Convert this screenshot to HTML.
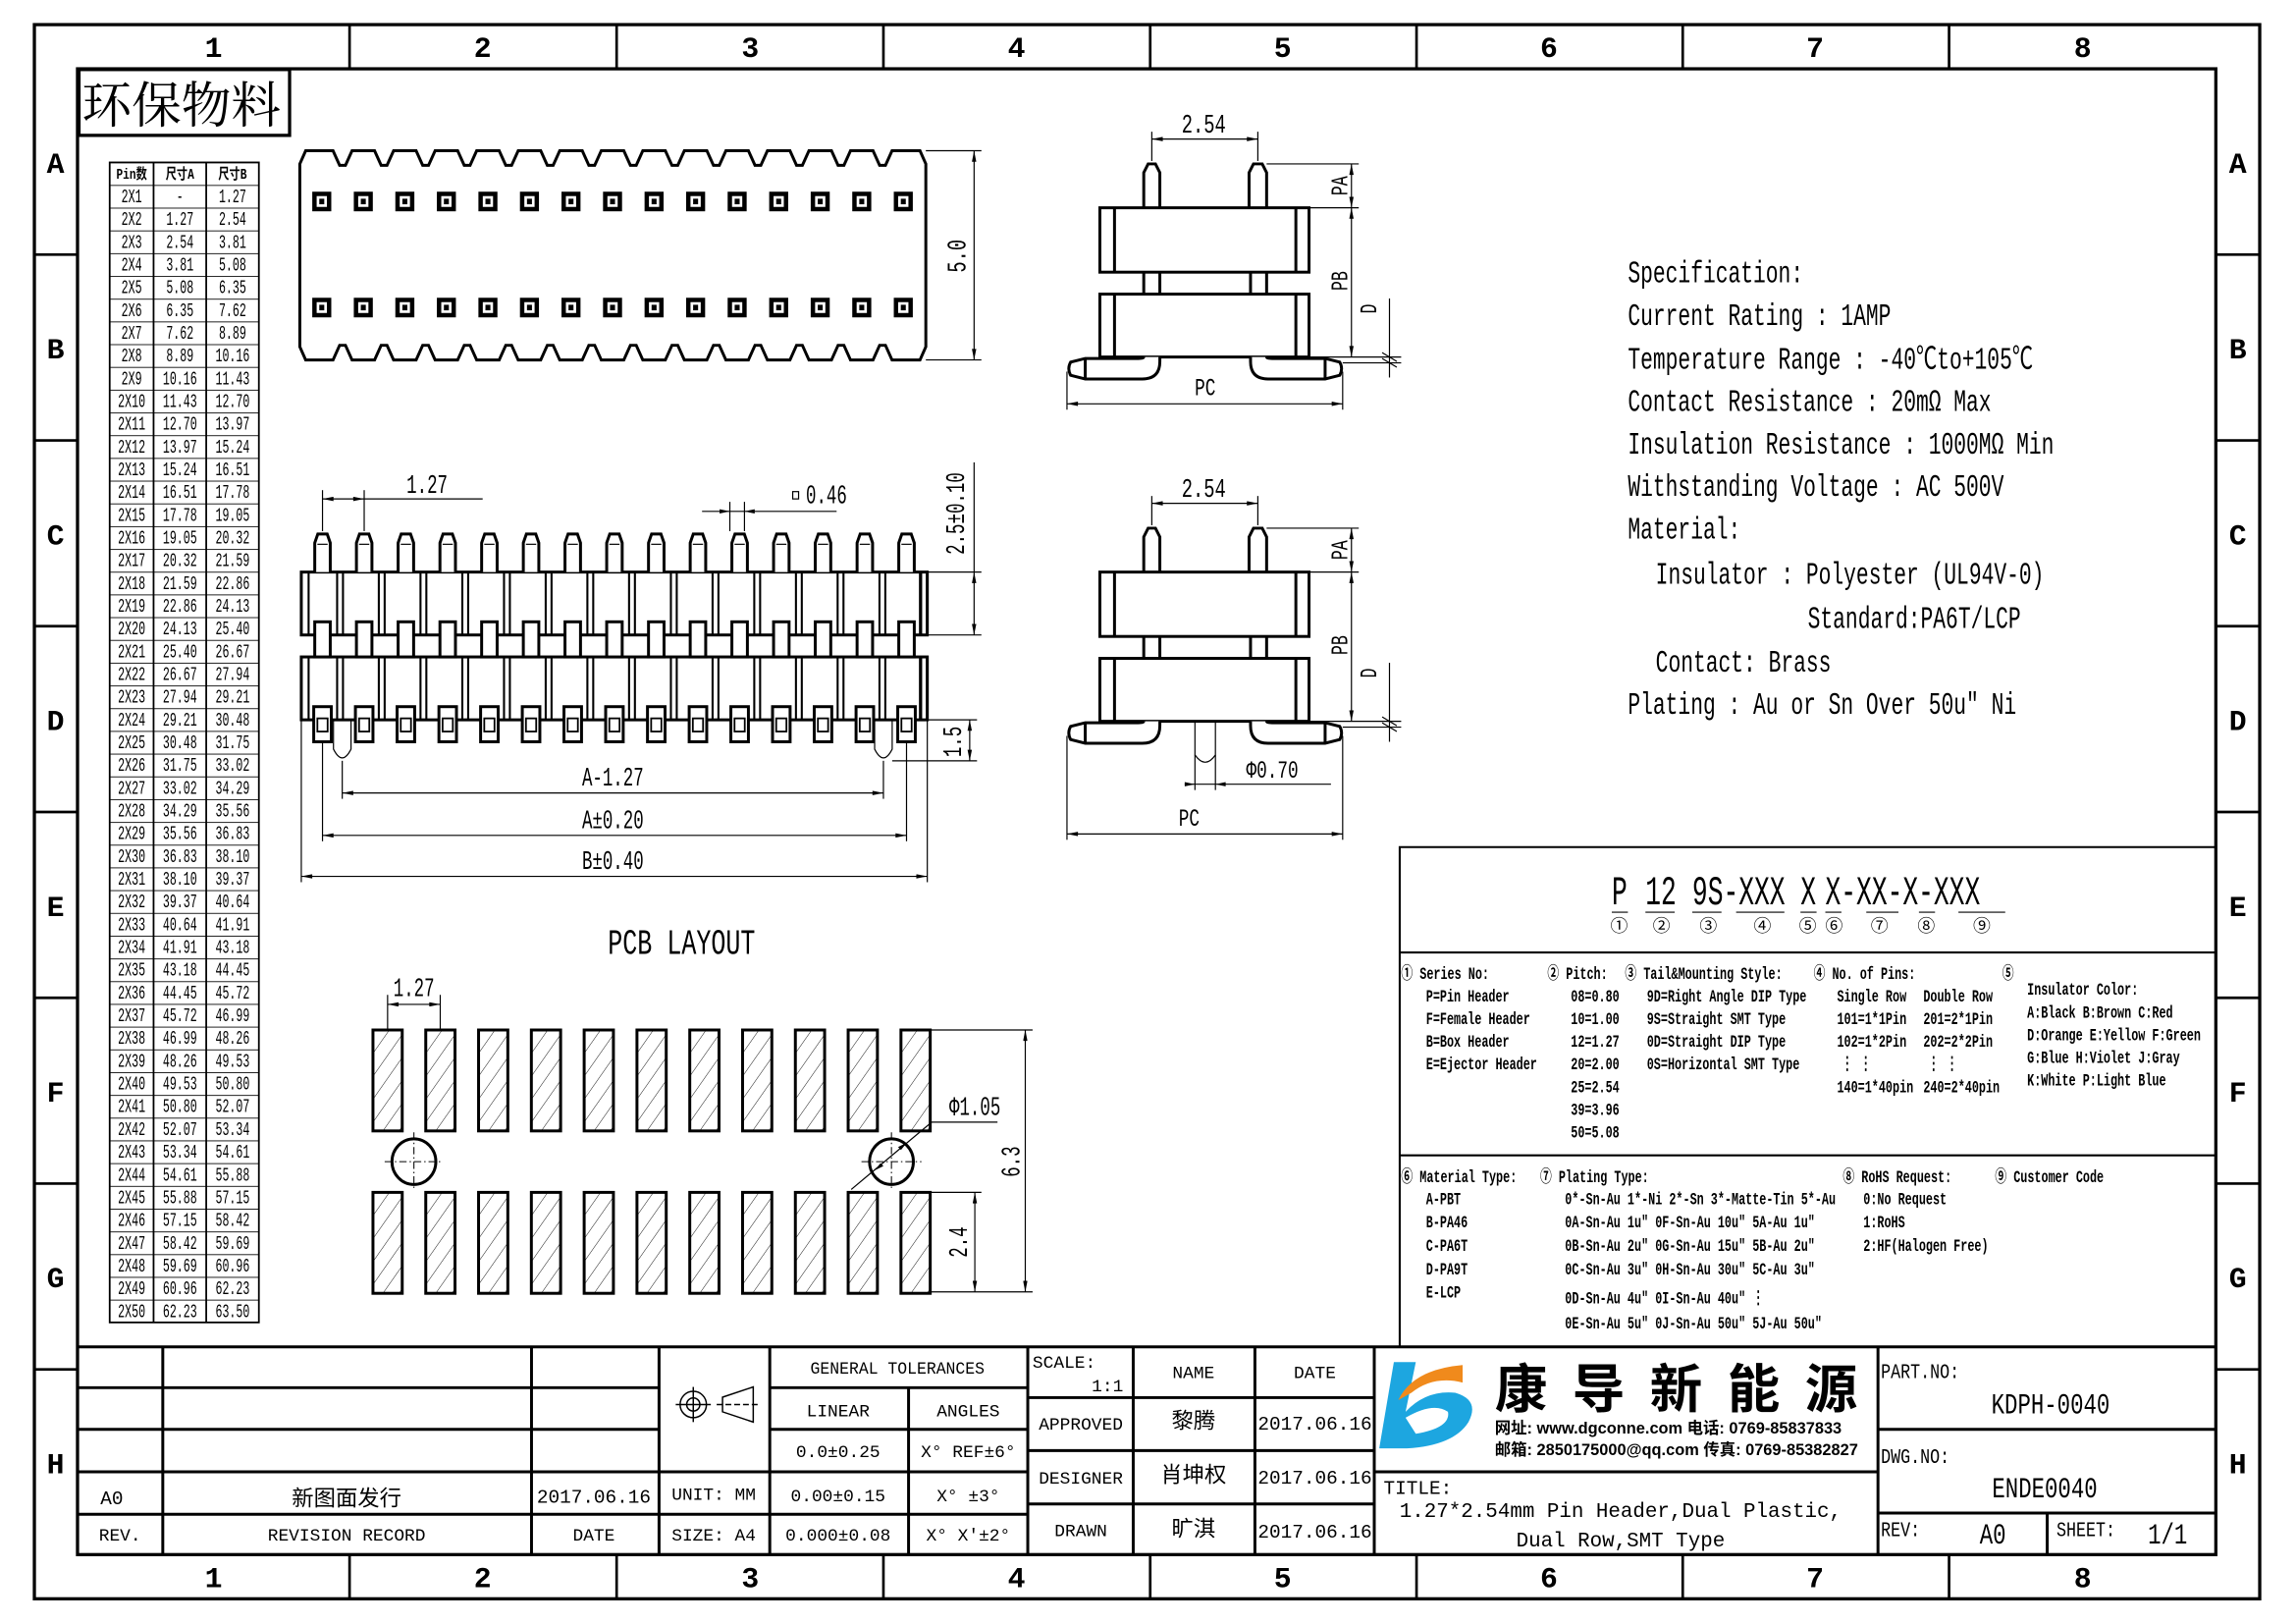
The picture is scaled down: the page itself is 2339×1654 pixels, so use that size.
<!DOCTYPE html>
<html><head><meta charset="utf-8"><style>
html,body{margin:0;padding:0;background:#fff}
svg{display:block}
text{font-family:"Liberation Mono","Noto Sans CJK SC",monospace;fill:#000}
.b{font-family:"Liberation Sans","Noto Sans CJK SC",sans-serif;font-weight:bold}
.o{fill:none;stroke:#000;stroke-width:2}
.w{fill:#fff;stroke:#000;stroke-width:2}
.t{fill:none;stroke:#000;stroke-width:0.8}
.d{fill:none;stroke:#000;stroke-width:0.8;marker-start:url(#ar);marker-end:url(#ar)}
.m{font-size:12px;font-weight:bold}
.tb{font-size:13px;text-anchor:middle}
.c{text-anchor:middle}
</style></head><body>
<svg width="2339" height="1654" viewBox="0 0 1569.8 1110" xmlns="http://www.w3.org/2000/svg">
<defs>
<marker id="ar" viewBox="0 0 10 4" refX="10" refY="2" markerWidth="8" markerHeight="3" markerUnits="userSpaceOnUse" orient="auto-start-reverse"><path d="M0,0 L10,2 L0,4z"/></marker>
<pattern id="rows" patternUnits="userSpaceOnUse" x="0" y="126.4" width="200" height="15.55"><line x1="0" y1="0" x2="200" y2="0" stroke="#000" stroke-width="1.2"/></pattern>
<pattern id="hatch" patternUnits="userSpaceOnUse" width="9" height="9" patternTransform="rotate(35)"><line x1="0" y1="0" x2="0" y2="9" stroke="#000" stroke-width="0.6"/></pattern>
<g id="pad"><rect x="0" y="0" width="13" height="13.4" fill="#000"/><rect x="3" y="3" width="7" height="7.4" fill="#fff"/><rect x="4.8" y="4.8" width="3.4" height="3.8" fill="#000"/></g>
<g id="fp">
<path class="w" d="M-5.3,391 V371 L-3.2,365 H3.2 L5.3,371 V391"/>
<line class="t" x1="-3.5" y1="372" x2="3.5" y2="372"/>
<rect class="w" x="-5.3" y="425" width="10.6" height="24"/>
<rect class="w" x="-6" y="483" width="12" height="24"/>
<rect class="o" style="stroke-width:1.2" x="-3.5" y="491" width="7" height="9"/>
<line class="o" style="stroke-width:1.4" x1="10" y1="391" x2="10" y2="434"/>
<line class="o" style="stroke-width:1.4" x1="14" y1="391" x2="14" y2="434"/>
<line class="o" style="stroke-width:1.4" x1="10" y1="449" x2="10" y2="492"/>
<line class="o" style="stroke-width:1.4" x1="14" y1="449" x2="14" y2="492"/>
</g>
<g id="ppad"><rect x="0" y="0" width="20" height="69" fill="url(#hatch)" stroke="#000" stroke-width="2"/></g>
<g id="sv">
<path class="w" d="M782,142 V118 L785,112 H790 L793,118 V142"/>
<path class="w" d="M854,142 V118 L857,112 H863 L866,118 V142"/>
<rect class="w" x="782" y="184" width="11" height="19"/>
<rect class="w" x="855" y="184" width="11" height="19"/>
<rect class="w" x="752" y="142" width="143" height="44"/>
<rect class="w" x="752" y="201" width="143" height="43"/>
<line class="o" x1="762" y1="142" x2="762" y2="186"/><line class="o" x1="886" y1="142" x2="886" y2="186"/>
<line class="o" x1="762" y1="201" x2="762" y2="244"/><line class="o" x1="886" y1="201" x2="886" y2="244"/>
<path class="w" d="M793,244 V247 Q793,259 781,259 H742 L732,256.5 Q729.5,252 732,247.5 L742,245 H777 Q782,245 782,244"/>
<line class="o" x1="742" y1="245" x2="742" y2="259"/>
<path class="w" d="M855,244 V247 Q855,259 867,259 H906 L916,256.5 Q918.5,252 916,247.5 L906,245 H871 Q866,245 866,244"/>
<line class="o" x1="906" y1="245" x2="906" y2="259"/>
<line class="t" x1="787.5" y1="110" x2="787.5" y2="90"/><line class="t" x1="860" y1="110" x2="860" y2="90"/>
<line class="d" x1="787.5" y1="95" x2="860" y2="95"/>
<text transform="translate(823,90.6) scale(.7,1)" class="c" style="font-size:18px">2.54</text>
<line class="t" x1="866" y1="112" x2="929" y2="112"/><line class="t" x1="895" y1="142" x2="929" y2="142"/><line class="t" x1="895" y1="244" x2="958" y2="244"/><line class="t" x1="918" y1="248" x2="958" y2="248"/>
<line class="d" x1="924" y1="112" x2="924" y2="142"/><line class="d" x1="924" y1="142" x2="924" y2="244"/>
<line class="t" x1="950" y1="204" x2="950" y2="258"/>
<line class="t" x1="945" y1="241" x2="955" y2="247"/><line class="t" x1="945" y1="245" x2="955" y2="251"/>
<text transform="translate(921,127) rotate(-90) scale(.7,1)" class="c" style="font-size:16px">PA</text>
<text transform="translate(921,192) rotate(-90) scale(.7,1)" class="c" style="font-size:16px">PB</text>
<text transform="translate(941,211) rotate(-90) scale(.7,1)" class="c" style="font-size:16px">D</text>
</g>
</defs>

<!-- frame -->
<rect x="23.5" y="16.8" width="1521.5" height="1076" fill="none" stroke="#000" stroke-width="2.2"/>
<rect x="53" y="47" width="1462" height="1015.6" fill="none" stroke="#000" stroke-width="2.2"/>
<g stroke="#000" stroke-width="1.8">
<line x1="239" y1="16.8" x2="239" y2="47"/><line x1="421.6" y1="16.8" x2="421.6" y2="47"/><line x1="604" y1="16.8" x2="604" y2="47"/><line x1="786.4" y1="16.8" x2="786.4" y2="47"/><line x1="968.5" y1="16.8" x2="968.5" y2="47"/><line x1="1150.5" y1="16.8" x2="1150.5" y2="47"/><line x1="1332.6" y1="16.8" x2="1332.6" y2="47"/>
<line x1="239" y1="1062.6" x2="239" y2="1092.8"/><line x1="421.6" y1="1062.6" x2="421.6" y2="1092.8"/><line x1="604" y1="1062.6" x2="604" y2="1092.8"/><line x1="786.4" y1="1062.6" x2="786.4" y2="1092.8"/><line x1="968.5" y1="1062.6" x2="968.5" y2="1092.8"/><line x1="1150.5" y1="1062.6" x2="1150.5" y2="1092.8"/><line x1="1332.6" y1="1062.6" x2="1332.6" y2="1092.8"/>
<line x1="23.5" y1="174" x2="53" y2="174"/><line x1="23.5" y1="301" x2="53" y2="301"/><line x1="23.5" y1="428" x2="53" y2="428"/><line x1="23.5" y1="555" x2="53" y2="555"/><line x1="23.5" y1="682" x2="53" y2="682"/><line x1="23.5" y1="809" x2="53" y2="809"/><line x1="23.5" y1="936" x2="53" y2="936"/>
<line x1="1515" y1="174" x2="1545" y2="174"/><line x1="1515" y1="301" x2="1545" y2="301"/><line x1="1515" y1="428" x2="1545" y2="428"/><line x1="1515" y1="555" x2="1545" y2="555"/><line x1="1515" y1="682" x2="1545" y2="682"/><line x1="1515" y1="809" x2="1545" y2="809"/><line x1="1515" y1="936" x2="1545" y2="936"/>
</g>
<g class="b" style="font-size:20px" text-anchor="middle">
<text x="146" y="39">1</text><text x="330" y="39">2</text><text x="513" y="39">3</text><text x="695" y="39">4</text><text x="877" y="39">5</text><text x="1059" y="39">6</text><text x="1241" y="39">7</text><text x="1424" y="39">8</text>
<text x="146" y="1085">1</text><text x="330" y="1085">2</text><text x="513" y="1085">3</text><text x="695" y="1085">4</text><text x="877" y="1085">5</text><text x="1059" y="1085">6</text><text x="1241" y="1085">7</text><text x="1424" y="1085">8</text>
<text x="38" y="118">A</text><text x="38" y="245">B</text><text x="38" y="372">C</text><text x="38" y="499">D</text><text x="38" y="626">E</text><text x="38" y="753">F</text><text x="38" y="880">G</text><text x="38" y="1007">H</text>
<text x="1530" y="118">A</text><text x="1530" y="245">B</text><text x="1530" y="372">C</text><text x="1530" y="499">D</text><text x="1530" y="626">E</text><text x="1530" y="753">F</text><text x="1530" y="880">G</text><text x="1530" y="1007">H</text>
</g>

<!-- 环保物料 -->
<rect x="54" y="47.5" width="144" height="45" fill="none" stroke="#000" stroke-width="2.2"/>
<text x="56" y="84" style="font-family:'Noto Serif CJK SC','Noto Sans CJK SC',serif;font-size:34px">环保物料</text>

<!-- pin table -->
<rect x="75" y="111" width="102" height="792.9" fill="url(#rows)" stroke="#000" stroke-width="1.2"/>
<line x1="105" y1="111" x2="105" y2="903.9" stroke="#000" stroke-width="1.2"/>
<line x1="141" y1="111" x2="141" y2="903.9" stroke="#000" stroke-width="1.2"/>
<g style="font-size:10px;font-weight:bold" text-anchor="middle">
<text transform="translate(90,122) scale(.75,1)">Pin数</text><text transform="translate(123,122) scale(.75,1)">尺寸A</text><text transform="translate(159,122) scale(.75,1)">尺寸B</text>
</g>
<text class="tb" transform="translate(90,0) scale(.6,1)"><tspan x="0" y="138.2">2X1</tspan><tspan x="0" dy="15.55">2X2</tspan><tspan x="0" dy="15.55">2X3</tspan><tspan x="0" dy="15.55">2X4</tspan><tspan x="0" dy="15.55">2X5</tspan><tspan x="0" dy="15.55">2X6</tspan><tspan x="0" dy="15.55">2X7</tspan><tspan x="0" dy="15.55">2X8</tspan><tspan x="0" dy="15.55">2X9</tspan><tspan x="0" dy="15.55">2X10</tspan><tspan x="0" dy="15.55">2X11</tspan><tspan x="0" dy="15.55">2X12</tspan><tspan x="0" dy="15.55">2X13</tspan><tspan x="0" dy="15.55">2X14</tspan><tspan x="0" dy="15.55">2X15</tspan><tspan x="0" dy="15.55">2X16</tspan><tspan x="0" dy="15.55">2X17</tspan><tspan x="0" dy="15.55">2X18</tspan><tspan x="0" dy="15.55">2X19</tspan><tspan x="0" dy="15.55">2X20</tspan><tspan x="0" dy="15.55">2X21</tspan><tspan x="0" dy="15.55">2X22</tspan><tspan x="0" dy="15.55">2X23</tspan><tspan x="0" dy="15.55">2X24</tspan><tspan x="0" dy="15.55">2X25</tspan><tspan x="0" dy="15.55">2X26</tspan><tspan x="0" dy="15.55">2X27</tspan><tspan x="0" dy="15.55">2X28</tspan><tspan x="0" dy="15.55">2X29</tspan><tspan x="0" dy="15.55">2X30</tspan><tspan x="0" dy="15.55">2X31</tspan><tspan x="0" dy="15.55">2X32</tspan><tspan x="0" dy="15.55">2X33</tspan><tspan x="0" dy="15.55">2X34</tspan><tspan x="0" dy="15.55">2X35</tspan><tspan x="0" dy="15.55">2X36</tspan><tspan x="0" dy="15.55">2X37</tspan><tspan x="0" dy="15.55">2X38</tspan><tspan x="0" dy="15.55">2X39</tspan><tspan x="0" dy="15.55">2X40</tspan><tspan x="0" dy="15.55">2X41</tspan><tspan x="0" dy="15.55">2X42</tspan><tspan x="0" dy="15.55">2X43</tspan><tspan x="0" dy="15.55">2X44</tspan><tspan x="0" dy="15.55">2X45</tspan><tspan x="0" dy="15.55">2X46</tspan><tspan x="0" dy="15.55">2X47</tspan><tspan x="0" dy="15.55">2X48</tspan><tspan x="0" dy="15.55">2X49</tspan><tspan x="0" dy="15.55">2X50</tspan></text>
<text class="tb" transform="translate(123,0) scale(.6,1)"><tspan x="0" y="138.2">-</tspan><tspan x="0" dy="15.55">1.27</tspan><tspan x="0" dy="15.55">2.54</tspan><tspan x="0" dy="15.55">3.81</tspan><tspan x="0" dy="15.55">5.08</tspan><tspan x="0" dy="15.55">6.35</tspan><tspan x="0" dy="15.55">7.62</tspan><tspan x="0" dy="15.55">8.89</tspan><tspan x="0" dy="15.55">10.16</tspan><tspan x="0" dy="15.55">11.43</tspan><tspan x="0" dy="15.55">12.70</tspan><tspan x="0" dy="15.55">13.97</tspan><tspan x="0" dy="15.55">15.24</tspan><tspan x="0" dy="15.55">16.51</tspan><tspan x="0" dy="15.55">17.78</tspan><tspan x="0" dy="15.55">19.05</tspan><tspan x="0" dy="15.55">20.32</tspan><tspan x="0" dy="15.55">21.59</tspan><tspan x="0" dy="15.55">22.86</tspan><tspan x="0" dy="15.55">24.13</tspan><tspan x="0" dy="15.55">25.40</tspan><tspan x="0" dy="15.55">26.67</tspan><tspan x="0" dy="15.55">27.94</tspan><tspan x="0" dy="15.55">29.21</tspan><tspan x="0" dy="15.55">30.48</tspan><tspan x="0" dy="15.55">31.75</tspan><tspan x="0" dy="15.55">33.02</tspan><tspan x="0" dy="15.55">34.29</tspan><tspan x="0" dy="15.55">35.56</tspan><tspan x="0" dy="15.55">36.83</tspan><tspan x="0" dy="15.55">38.10</tspan><tspan x="0" dy="15.55">39.37</tspan><tspan x="0" dy="15.55">40.64</tspan><tspan x="0" dy="15.55">41.91</tspan><tspan x="0" dy="15.55">43.18</tspan><tspan x="0" dy="15.55">44.45</tspan><tspan x="0" dy="15.55">45.72</tspan><tspan x="0" dy="15.55">46.99</tspan><tspan x="0" dy="15.55">48.26</tspan><tspan x="0" dy="15.55">49.53</tspan><tspan x="0" dy="15.55">50.80</tspan><tspan x="0" dy="15.55">52.07</tspan><tspan x="0" dy="15.55">53.34</tspan><tspan x="0" dy="15.55">54.61</tspan><tspan x="0" dy="15.55">55.88</tspan><tspan x="0" dy="15.55">57.15</tspan><tspan x="0" dy="15.55">58.42</tspan><tspan x="0" dy="15.55">59.69</tspan><tspan x="0" dy="15.55">60.96</tspan><tspan x="0" dy="15.55">62.23</tspan></text>
<text class="tb" transform="translate(159,0) scale(.6,1)"><tspan x="0" y="138.2">1.27</tspan><tspan x="0" dy="15.55">2.54</tspan><tspan x="0" dy="15.55">3.81</tspan><tspan x="0" dy="15.55">5.08</tspan><tspan x="0" dy="15.55">6.35</tspan><tspan x="0" dy="15.55">7.62</tspan><tspan x="0" dy="15.55">8.89</tspan><tspan x="0" dy="15.55">10.16</tspan><tspan x="0" dy="15.55">11.43</tspan><tspan x="0" dy="15.55">12.70</tspan><tspan x="0" dy="15.55">13.97</tspan><tspan x="0" dy="15.55">15.24</tspan><tspan x="0" dy="15.55">16.51</tspan><tspan x="0" dy="15.55">17.78</tspan><tspan x="0" dy="15.55">19.05</tspan><tspan x="0" dy="15.55">20.32</tspan><tspan x="0" dy="15.55">21.59</tspan><tspan x="0" dy="15.55">22.86</tspan><tspan x="0" dy="15.55">24.13</tspan><tspan x="0" dy="15.55">25.40</tspan><tspan x="0" dy="15.55">26.67</tspan><tspan x="0" dy="15.55">27.94</tspan><tspan x="0" dy="15.55">29.21</tspan><tspan x="0" dy="15.55">30.48</tspan><tspan x="0" dy="15.55">31.75</tspan><tspan x="0" dy="15.55">33.02</tspan><tspan x="0" dy="15.55">34.29</tspan><tspan x="0" dy="15.55">35.56</tspan><tspan x="0" dy="15.55">36.83</tspan><tspan x="0" dy="15.55">38.10</tspan><tspan x="0" dy="15.55">39.37</tspan><tspan x="0" dy="15.55">40.64</tspan><tspan x="0" dy="15.55">41.91</tspan><tspan x="0" dy="15.55">43.18</tspan><tspan x="0" dy="15.55">44.45</tspan><tspan x="0" dy="15.55">45.72</tspan><tspan x="0" dy="15.55">46.99</tspan><tspan x="0" dy="15.55">48.26</tspan><tspan x="0" dy="15.55">49.53</tspan><tspan x="0" dy="15.55">50.80</tspan><tspan x="0" dy="15.55">52.07</tspan><tspan x="0" dy="15.55">53.34</tspan><tspan x="0" dy="15.55">54.61</tspan><tspan x="0" dy="15.55">55.88</tspan><tspan x="0" dy="15.55">57.15</tspan><tspan x="0" dy="15.55">58.42</tspan><tspan x="0" dy="15.55">59.69</tspan><tspan x="0" dy="15.55">60.96</tspan><tspan x="0" dy="15.55">62.23</tspan><tspan x="0" dy="15.55">63.50</tspan></text>

<!-- top view -->
<path class="o" d="M205,112 L209,103 H227.7 L232.2,113 H236.2 L240.7,103 H256.1 L260.6,113 H264.6 L269.1,103 H284.5 L289,113 H293 L297.5,103 H312.9 L317.4,113 H321.4 L325.9,103 H341.3 L345.8,113 H349.8 L354.3,103 H369.7 L374.2,113 H378.2 L382.7,103 H398.1 L402.6,113 H406.6 L411.1,103 H426.5 L431,113 H435 L439.5,103 H454.9 L459.4,113 H463.4 L467.9,103 H483.3 L487.8,113 H491.8 L496.3,103 H511.7 L516.2,113 H520.2 L524.7,103 H540.1 L544.6,113 H548.6 L553.1,103 H568.5 L573,113 H577 L581.5,103 H596.9 L601.4,113 H605.4 L609.9,103 H629 L633,112 V237 L629,246 H609.9 L605.4,236 H601.4 L596.9,246 H581.5 L577,236 H573 L568.5,246 H553.1 L548.6,236 H544.6 L540.1,246 H524.7 L520.2,236 H516.2 L511.7,246 H496.3 L491.8,236 H487.8 L483.3,246 H467.9 L463.4,236 H459.4 L454.9,246 H439.5 L435,236 H431 L426.5,246 H411.1 L406.6,236 H402.6 L398.1,246 H382.7 L378.2,236 H374.2 L369.7,246 H354.3 L349.8,236 H345.8 L341.3,246 H325.9 L321.4,236 H317.4 L312.9,246 H297.5 L293,236 H289 L284.5,246 H269.1 L264.6,236 H260.6 L256.1,246 H240.7 L236.2,236 H232.2 L227.7,246 H209 L205,237 Z"/>
<g>
<use href="#pad" x="213.5" y="131"/><use href="#pad" x="241.9" y="131"/><use href="#pad" x="270.3" y="131"/><use href="#pad" x="298.7" y="131"/><use href="#pad" x="327.1" y="131"/><use href="#pad" x="355.5" y="131"/><use href="#pad" x="383.9" y="131"/><use href="#pad" x="412.3" y="131"/><use href="#pad" x="440.7" y="131"/><use href="#pad" x="469.1" y="131"/><use href="#pad" x="497.5" y="131"/><use href="#pad" x="525.9" y="131"/><use href="#pad" x="554.3" y="131"/><use href="#pad" x="582.7" y="131"/><use href="#pad" x="611.1" y="131"/>
<use href="#pad" x="213.5" y="203.5"/><use href="#pad" x="241.9" y="203.5"/><use href="#pad" x="270.3" y="203.5"/><use href="#pad" x="298.7" y="203.5"/><use href="#pad" x="327.1" y="203.5"/><use href="#pad" x="355.5" y="203.5"/><use href="#pad" x="383.9" y="203.5"/><use href="#pad" x="412.3" y="203.5"/><use href="#pad" x="440.7" y="203.5"/><use href="#pad" x="469.1" y="203.5"/><use href="#pad" x="497.5" y="203.5"/><use href="#pad" x="525.9" y="203.5"/><use href="#pad" x="554.3" y="203.5"/><use href="#pad" x="582.7" y="203.5"/><use href="#pad" x="611.1" y="203.5"/>
</g>
<line class="t" x1="633" y1="103" x2="671" y2="103"/><line class="t" x1="633" y1="246" x2="671" y2="246"/>
<line class="d" x1="666" y1="103" x2="666" y2="246"/>
<text transform="translate(660,175) rotate(-90) scale(.7,1)" class="c" style="font-size:18px">5.0</text>

<!-- front view -->
<rect class="w" x="206" y="391" width="428" height="43"/>
<rect class="w" x="206" y="449" width="428" height="43"/>
<line class="o" style="stroke-width:1.4" x1="211" y1="391" x2="211" y2="434"/><line class="o" style="stroke-width:1.4" x1="211" y1="449" x2="211" y2="492"/>
<line class="o" style="stroke-width:1.4" x1="629" y1="391" x2="629" y2="434"/><line class="o" style="stroke-width:1.4" x1="629" y1="449" x2="629" y2="492"/>
<path class="t" d="M228,492 V512 Q234,524 240,512 V492"/>
<path class="t" d="M598,492 V512 Q604,524 610,512 V492"/>
<g>
<use href="#fp" x="220.5"/><use href="#fp" x="249"/><use href="#fp" x="277.5"/><use href="#fp" x="306.1"/><use href="#fp" x="334.6"/><use href="#fp" x="363.1"/><use href="#fp" x="391.6"/><use href="#fp" x="420.1"/><use href="#fp" x="448.7"/><use href="#fp" x="477.2"/><use href="#fp" x="505.7"/><use href="#fp" x="534.2"/><use href="#fp" x="562.7"/><use href="#fp" x="591.3"/><use href="#fp" x="619.8"/>
</g>
<line class="t" x1="220.5" y1="363" x2="220.5" y2="335"/><line class="t" x1="249" y1="363" x2="249" y2="335"/>
<line class="d" x1="220.5" y1="341" x2="249" y2="341"/><line class="t" x1="249" y1="341" x2="330" y2="341"/>
<text transform="translate(292,337) scale(.65,1)" class="c" style="font-size:18px">1.27</text>
<line class="t" x1="499" y1="363" x2="499" y2="343"/><line class="t" x1="509" y1="363" x2="509" y2="343"/>
<line class="t" x1="480" y1="349.5" x2="572" y2="349.5"/>
<path d="M499,349.5 l-7,-1.5 v3z M509,349.5 l7,-1.5 v3z"/>
<rect x="542" y="336" width="4" height="5" fill="none" stroke="#000" stroke-width="0.8"/>
<text transform="translate(551,344) scale(.65,1)" style="font-size:18px">0.46</text>
<line class="t" x1="634" y1="391" x2="671" y2="391"/><line class="t" x1="634" y1="434" x2="671" y2="434"/>
<line class="t" x1="666" y1="316" x2="666" y2="391"/>
<line class="d" x1="666" y1="391" x2="666" y2="434"/>
<text transform="translate(659,351) rotate(-90) scale(.65,1)" class="c" style="font-size:18px">2.5±0.10</text>
<line class="t" x1="634" y1="492" x2="668" y2="492"/><line class="t" x1="610" y1="520" x2="668" y2="520"/>
<line class="d" x1="663" y1="492" x2="663" y2="520"/>
<text transform="translate(657,507) rotate(-90) scale(.65,1)" class="c" style="font-size:18px">1.5</text>
<line class="t" x1="234" y1="520" x2="234" y2="546"/><line class="t" x1="604" y1="520" x2="604" y2="546"/>
<line class="d" x1="234" y1="542" x2="604" y2="542"/>
<text transform="translate(419,537) scale(.65,1)" class="c" style="font-size:18px">A-1.27</text>
<line class="t" x1="220.5" y1="507" x2="220.5" y2="575"/><line class="t" x1="619.8" y1="507" x2="619.8" y2="575"/>
<line class="d" x1="220.5" y1="571" x2="619.8" y2="571"/>
<text transform="translate(419,566) scale(.65,1)" class="c" style="font-size:18px">A±0.20</text>
<line class="t" x1="206" y1="492" x2="206" y2="603"/><line class="t" x1="634" y1="492" x2="634" y2="603"/>
<line class="d" x1="206" y1="599" x2="634" y2="599"/>
<text transform="translate(419,594) scale(.65,1)" class="c" style="font-size:18px">B±0.40</text>

<!-- side views -->
<use href="#sv"/>
<line class="t" x1="729.5" y1="254" x2="729.5" y2="280"/><line class="t" x1="918" y1="254" x2="918" y2="280"/>
<line class="d" x1="729.5" y1="276" x2="918" y2="276"/>
<text transform="translate(824,270) scale(.7,1)" class="c" style="font-size:17px">PC</text>
<use href="#sv" y="249"/>
<path class="t" d="M817,493 V516 Q824,526 831,516 V493"/>
<line class="t" x1="817" y1="516" x2="817" y2="540"/><line class="t" x1="831" y1="516" x2="831" y2="540"/>
<line class="t" x1="810" y1="536" x2="910" y2="536"/>
<path d="M817,536 l-7,-1.5 v3z M831,536 l7,-1.5 v3z"/>
<text transform="translate(852,531.5) scale(.7,1)" style="font-size:17px">Φ0.70</text>
<line class="t" x1="729.5" y1="503" x2="729.5" y2="574"/><line class="t" x1="918" y1="503" x2="918" y2="574"/>
<line class="d" x1="729.5" y1="570" x2="918" y2="570"/>
<text transform="translate(813,564.5) scale(.7,1)" class="c" style="font-size:17px">PC</text>

<!-- spec -->
<g style="font-size:21px">
<text transform="translate(1113,193) scale(.68,1)">Specification:</text>
<text transform="translate(1113,222) scale(.68,1)">Current Rating : 1AMP</text>
<text transform="translate(1113,252) scale(.68,1)">Temperature Range : -40℃to+105℃</text>
<text transform="translate(1113,281) scale(.68,1)">Contact Resistance : 20mΩ Max</text>
<text transform="translate(1113,310) scale(.68,1)">Insulation Resistance : 1000MΩ Min</text>
<text transform="translate(1113,339) scale(.68,1)">Withstanding Voltage : AC 500V</text>
<text transform="translate(1113,368) scale(.68,1)">Material:</text>
<text transform="translate(1132,399) scale(.68,1)">Insulator : Polyester (UL94V-0)</text>
<text transform="translate(1236,429) scale(.68,1)">Standard:PA6T/LCP</text>
<text transform="translate(1132,459) scale(.68,1)">Contact: Brass</text>
<text transform="translate(1113,488) scale(.68,1)">Plating : Au or Sn Over 50u″ Ni</text>
</g>

<!-- part number box -->
<path d="M957,920 V579 H1515" fill="none" stroke="#000" stroke-width="1.4"/>
<line x1="957" y1="651" x2="1515" y2="651" stroke="#000" stroke-width="1.4"/>
<line x1="957" y1="789.7" x2="1515" y2="789.7" stroke="#000" stroke-width="1.4"/>
<g style="font-size:28px">
<text transform="translate(1102,618) scale(.63,1)">P</text>
<text transform="translate(1125,618) scale(.63,1)">12</text>
<text transform="translate(1157,618) scale(.63,1)">9S-XXX</text>
<text transform="translate(1231,618) scale(.63,1)">X</text>
<text transform="translate(1248,618) scale(.63,1)">X-XX-X-XXX</text>
</g>
<g stroke="#000" stroke-width="0.8">
<line x1="1102" y1="623.5" x2="1113" y2="623.5"/><line x1="1125" y1="623.5" x2="1145" y2="623.5"/><line x1="1157" y1="623.5" x2="1177" y2="623.5"/><line x1="1187" y1="623.5" x2="1220" y2="623.5"/><line x1="1231" y1="623.5" x2="1242" y2="623.5"/><line x1="1248" y1="623.5" x2="1259" y2="623.5"/><line x1="1276" y1="623.5" x2="1298" y2="623.5"/><line x1="1312" y1="623.5" x2="1323" y2="623.5"/><line x1="1339" y1="623.5" x2="1371" y2="623.5"/>
</g>
<g style="font-size:12px;font-family:'DejaVu Sans',sans-serif" text-anchor="middle">
<text x="1107" y="637">①</text><text x="1136" y="637">②</text><text x="1168" y="637">③</text><text x="1205" y="637">④</text><text x="1236" y="637">⑤</text><text x="1254" y="637">⑥</text><text x="1285" y="637">⑦</text><text x="1317" y="637">⑧</text><text x="1355" y="637">⑨</text>
</g>
<g class="m">
<text transform="translate(958,669) scale(.66,1)">① Series No:</text>
<text transform="translate(975,684.5) scale(.66,1)">P=Pin Header</text>
<text transform="translate(975,700) scale(.66,1)">F=Female Header</text>
<text transform="translate(975,715.5) scale(.66,1)">B=Box Header</text>
<text transform="translate(975,731) scale(.66,1)">E=Ejector Header</text>
<text transform="translate(1058,669) scale(.66,1)">② Pitch:</text>
<text transform="translate(1074,684.5) scale(.66,1)">08=0.80</text>
<text transform="translate(1074,700) scale(.66,1)">10=1.00</text>
<text transform="translate(1074,715.5) scale(.66,1)">12=1.27</text>
<text transform="translate(1074,731) scale(.66,1)">20=2.00</text>
<text transform="translate(1074,746.5) scale(.66,1)">25=2.54</text>
<text transform="translate(1074,762) scale(.66,1)">39=3.96</text>
<text transform="translate(1074,777.5) scale(.66,1)">50=5.08</text>
<text transform="translate(1111,669) scale(.66,1)">③ Tail&amp;Mounting Style:</text>
<text transform="translate(1126,684.5) scale(.66,1)">9D=Right Angle DIP Type</text>
<text transform="translate(1126,700) scale(.66,1)">9S=Straight SMT Type</text>
<text transform="translate(1126,715.5) scale(.66,1)">0D=Straight DIP Type</text>
<text transform="translate(1126,731) scale(.66,1)">0S=Horizontal SMT Type</text>
<text transform="translate(1240,669) scale(.66,1)">④ No. of Pins:</text>
<text transform="translate(1256,684.5) scale(.66,1)">Single Row</text>
<text transform="translate(1315,684.5) scale(.66,1)">Double Row</text>
<text transform="translate(1256,700) scale(.66,1)">101=1*1Pin</text>
<text transform="translate(1315,700) scale(.66,1)">201=2*1Pin</text>
<text transform="translate(1256,715.5) scale(.66,1)">102=1*2Pin</text>
<text transform="translate(1315,715.5) scale(.66,1)">202=2*2Pin</text>
<text transform="translate(1259,731) scale(.66,1)">⋮  ⋮</text>
<text transform="translate(1318,731) scale(.66,1)">⋮  ⋮</text>
<text transform="translate(1256,746.5) scale(.66,1)">140=1*40pin</text>
<text transform="translate(1315,746.5) scale(.66,1)">240=2*40pin</text>
<text transform="translate(1369,669) scale(.66,1)">⑤</text>
<text transform="translate(1386,680) scale(.66,1)">Insulator Color:</text>
<text transform="translate(1386,695.5) scale(.66,1)">A:Black  B:Brown  C:Red</text>
<text transform="translate(1386,711) scale(.66,1)">D:Orange E:Yellow F:Green</text>
<text transform="translate(1386,726.5) scale(.66,1)">G:Blue   H:Violet J:Gray</text>
<text transform="translate(1386,742) scale(.66,1)">K:White  P:Light Blue</text>
<text transform="translate(958,808) scale(.66,1)">⑥ Material Type:</text>
<text transform="translate(975,823) scale(.66,1)">A-PBT</text>
<text transform="translate(975,839) scale(.66,1)">B-PA46</text>
<text transform="translate(975,855) scale(.66,1)">C-PA6T</text>
<text transform="translate(975,871) scale(.66,1)">D-PA9T</text>
<text transform="translate(975,887) scale(.66,1)">E-LCP</text>
<text transform="translate(1053,808) scale(.66,1)">⑦ Plating Type:</text>
<text transform="translate(1070,823) scale(.66,1)">0*-Sn-Au 1*-Ni 2*-Sn 3*-Matte-Tin 5*-Au</text>
<text transform="translate(1070,839) scale(.66,1)">0A-Sn-Au 1u″ 0F-Sn-Au 10u″  5A-Au 1u″</text>
<text transform="translate(1070,855) scale(.66,1)">0B-Sn-Au 2u″ 0G-Sn-Au 15u″  5B-Au 2u″</text>
<text transform="translate(1070,871) scale(.66,1)">0C-Sn-Au 3u″ 0H-Sn-Au 30u″  5C-Au 3u″</text>
<text transform="translate(1070,891) scale(.66,1)">0D-Sn-Au 4u″ 0I-Sn-Au 40u″     ⋮</text>
<text transform="translate(1070,908) scale(.66,1)">0E-Sn-Au 5u″ 0J-Sn-Au 50u″  5J-Au 50u″</text>
<text transform="translate(1260,808) scale(.66,1)">⑧ RoHS Request:</text>
<text transform="translate(1274,823) scale(.66,1)">0:No Request</text>
<text transform="translate(1274,839) scale(.66,1)">1:RoHS</text>
<text transform="translate(1274,855) scale(.66,1)">2:HF(Halogen Free)</text>
<text transform="translate(1364,808) scale(.66,1)">⑨ Customer Code</text>
</g>

<!-- PCB layout -->
<text transform="translate(466,652) scale(.7,1)" class="c" style="font-size:24px">PCB LAYOUT</text>
<g>
<use href="#ppad" x="255" y="704"/><use href="#ppad" x="291.1" y="704"/><use href="#ppad" x="327.2" y="704"/><use href="#ppad" x="363.3" y="704"/><use href="#ppad" x="399.4" y="704"/><use href="#ppad" x="435.5" y="704"/><use href="#ppad" x="471.6" y="704"/><use href="#ppad" x="507.7" y="704"/><use href="#ppad" x="543.8" y="704"/><use href="#ppad" x="579.9" y="704"/><use href="#ppad" x="616" y="704"/>
<use href="#ppad" x="255" y="815"/><use href="#ppad" x="291.1" y="815"/><use href="#ppad" x="327.2" y="815"/><use href="#ppad" x="363.3" y="815"/><use href="#ppad" x="399.4" y="815"/><use href="#ppad" x="435.5" y="815"/><use href="#ppad" x="471.6" y="815"/><use href="#ppad" x="507.7" y="815"/><use href="#ppad" x="543.8" y="815"/><use href="#ppad" x="579.9" y="815"/><use href="#ppad" x="616" y="815"/>
</g>
<ellipse cx="283" cy="794" rx="15" ry="15.6" class="o"/>
<ellipse cx="609.5" cy="794" rx="15" ry="15.6" class="o"/>
<g stroke="#000" stroke-width="0.7" stroke-dasharray="5,2,1,2">
<line x1="263" y1="794" x2="303" y2="794"/><line x1="283" y1="774" x2="283" y2="814"/>
<line x1="589" y1="794" x2="630" y2="794"/><line x1="609.5" y1="774" x2="609.5" y2="814"/>
</g>
<line class="t" x1="265" y1="703" x2="265" y2="680"/><line class="t" x1="301" y1="703" x2="301" y2="680"/>
<line class="d" x1="265" y1="686.5" x2="301" y2="686.5"/>
<text transform="translate(283,681) scale(.65,1)" class="c" style="font-size:18px">1.27</text>
<line class="t" x1="636" y1="704" x2="706" y2="704"/><line class="t" x1="636" y1="883" x2="706" y2="883"/>
<line class="d" x1="701" y1="704" x2="701" y2="883"/>
<text transform="translate(697,794) rotate(-90) scale(.65,1)" class="c" style="font-size:18px">6.3</text>
<line class="t" x1="636" y1="815" x2="671" y2="815"/>
<line class="d" x1="666.5" y1="815" x2="666.5" y2="883"/>
<text transform="translate(661,849) rotate(-90) scale(.65,1)" class="c" style="font-size:18px">2.4</text>
<polyline class="t" points="682,767 637,767 582,813"/>
<path d="M620,781 l-6,3 2,2z M598,800 l6,-3 -2,-2z"/>
<text transform="translate(649,762) scale(.65,1)" style="font-size:18px">Φ1.05</text>

<!-- title block -->
<g stroke="#000" stroke-width="2" fill="none">
<line x1="53" y1="920.6" x2="1515" y2="920.6"/>
<line x1="53" y1="948.5" x2="450.6" y2="948.5"/><line x1="53" y1="977" x2="450.6" y2="977"/><line x1="53" y1="1006" x2="450.6" y2="1006"/><line x1="53" y1="1035" x2="702.7" y2="1035"/>
<line x1="526.3" y1="948.5" x2="702.7" y2="948.5"/><line x1="526.3" y1="977" x2="702.7" y2="977"/><line x1="450.6" y1="1006" x2="702.7" y2="1006"/>
<line x1="111.3" y1="920.6" x2="111.3" y2="1062.6"/><line x1="363.4" y1="920.6" x2="363.4" y2="1062.6"/><line x1="450.6" y1="920.6" x2="450.6" y2="1062.6"/><line x1="526.3" y1="920.6" x2="526.3" y2="1062.6"/><line x1="621.2" y1="948.5" x2="621.2" y2="1062.6"/><line x1="702.7" y1="920.6" x2="702.7" y2="1062.6"/><line x1="774.8" y1="920.6" x2="774.8" y2="1062.6"/><line x1="858" y1="920.6" x2="858" y2="1062.6"/><line x1="939.6" y1="920.6" x2="939.6" y2="1062.6"/>
<line x1="702.7" y1="955.3" x2="939.6" y2="955.3"/><line x1="702.7" y1="991.5" x2="939.6" y2="991.5"/><line x1="702.7" y1="1028" x2="939.6" y2="1028"/>
<line x1="939.6" y1="1006" x2="1284" y2="1006"/><line x1="1284" y1="920.6" x2="1284" y2="1062.6"/>
<line x1="1284" y1="977" x2="1515" y2="977"/><line x1="1284" y1="1034.2" x2="1515" y2="1034.2"/><line x1="1399.7" y1="1034.2" x2="1399.7" y2="1062.6"/>
</g>
<g stroke="#000" stroke-width="1" fill="none">
<circle cx="474" cy="960" r="9"/><circle cx="474" cy="960" r="4.5"/><line x1="462" y1="960" x2="486" y2="960"/><line x1="474" y1="948" x2="474" y2="972"/>
<path d="M494,955 L515,948 V972 L494,965 Z"/><line x1="490" y1="960" x2="518" y2="960" stroke-dasharray="4,2"/>
</g>
<g style="font-size:12px">
<text transform="translate(613.6,939) scale(.92,1)" class="c">GENERAL TOLERANCES</text>
<text x="573" y="968" class="c">LINEAR</text><text x="662" y="968" class="c">ANGLES</text>
<text x="573" y="996" class="c">0.0±0.25</text><text x="662" y="996" class="c">X° REF±6°</text>
<text x="573" y="1026" class="c">0.00±0.15</text><text x="662" y="1026" class="c">X° ±3°</text>
<text x="573" y="1053" class="c">0.000±0.08</text><text x="662" y="1053" class="c">X° X′±2°</text>
<text x="488" y="1025" class="c">UNIT: MM</text><text x="488" y="1053" class="c">SIZE: A4</text>
<text x="76.4" y="1028" class="c" style="font-size:13px">A0</text>
<text x="237" y="1029" class="c" style="font-size:15px">新图面发行</text>
<text x="406" y="1027" class="c" style="font-size:13px">2017.06.16</text>
<text x="82" y="1053" class="c">REV.</text><text x="237" y="1053" class="c">REVISION RECORD</text><text x="406" y="1053" class="c">DATE</text>
<text x="706" y="935">SCALE:</text><text x="768" y="951" text-anchor="end">1:1</text>
<text x="816" y="942" class="c">NAME</text><text x="899" y="942" class="c">DATE</text>
<text x="739" y="977" class="c">APPROVED</text><text x="816" y="976" class="c" style="font-size:15px">黎腾</text><text x="899" y="977" class="c" style="font-size:13px">2017.06.16</text>
<text x="739" y="1014" class="c">DESIGNER</text><text x="816" y="1013" class="c" style="font-size:15px">肖坤权</text><text x="899" y="1014" class="c" style="font-size:13px">2017.06.16</text>
<text x="739" y="1050" class="c">DRAWN</text><text x="816" y="1050" class="c" style="font-size:15px">旷淇</text><text x="899" y="1051" class="c" style="font-size:13px">2017.06.16</text>
</g>
<!-- logo -->
<path d="M953,931 L968,931 L961,965 Q975,950 995,952 Q1012,957 1004,972 Q994,988 962,990 L943,990 Z" fill="#1da6e0"/>
<path d="M961,969 Q980,958 990,965 Q992,976 968,980 Z" fill="#fff"/>
<path d="M956,957 Q966,936 1000,933 L1000,945 Q980,940 965,952 Z" fill="#f08a1c"/>
<text x="1022" y="962" class="b" style="font-size:36px;letter-spacing:17px;font-family:'Noto Sans CJK SC',sans-serif;font-weight:bold">康导新能源</text>
<text x="1022" y="980" class="b" style="font-size:11px">网址: www.dgconne.com    电话: 0769-85837833</text>
<text x="1022" y="994.6" class="b" style="font-size:11px">邮箱: 2850175000@qq.com 传真: 0769-85382827</text>
<text x="946" y="1021" style="font-size:13px">TITLE:</text>
<text x="1108" y="1037" class="c" style="font-size:14px">1.27*2.54mm Pin Header,Dual Plastic,</text>
<text x="1108" y="1057" class="c" style="font-size:14px">Dual Row,SMT Type</text>
<text transform="translate(1286,942) scale(.8,1)" style="font-size:14px">PART.NO:</text>
<text transform="translate(1402,966) scale(.75,1)" class="c" style="font-size:20px">KDPH-0040</text>
<text transform="translate(1286,1000) scale(.8,1)" style="font-size:14px">DWG.NO:</text>
<text transform="translate(1398,1023.5) scale(.75,1)" class="c" style="font-size:20px">ENDE0040</text>
<text transform="translate(1286,1050) scale(.8,1)" style="font-size:14px">REV:</text>
<text transform="translate(1362.5,1055) scale(.75,1)" class="c" style="font-size:20px">A0</text>
<text transform="translate(1406,1050) scale(.8,1)" style="font-size:14px">SHEET:</text>
<text transform="translate(1482,1055) scale(.75,1)" class="c" style="font-size:20px">1/1</text>
</svg>
</body></html>
